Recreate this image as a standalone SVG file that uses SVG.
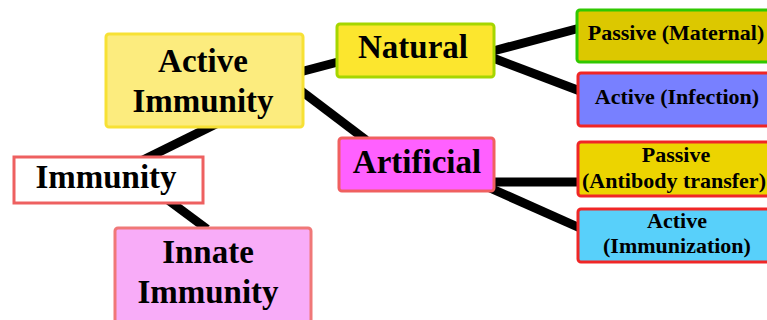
<svg xmlns="http://www.w3.org/2000/svg" width="767" height="320" viewBox="0 0 767 320">
<style>
.b{stroke-width:3}
.t{font-family:"Liberation Serif","Times New Roman",serif;font-weight:bold;fill:#000;text-anchor:middle}
.big{font-size:33px}
.sm{font-size:22px}
#edges line{stroke:#000;stroke-width:9;stroke-linecap:butt}
</style>
<rect width="767" height="320" fill="#fff"/>
<g id="edges">
<line x1="143" y1="160" x2="216" y2="124"/>
<line x1="168" y1="200" x2="207" y2="229"/>
<line x1="300" y1="72" x2="338" y2="62"/>
<line x1="300" y1="90" x2="366" y2="140"/>
<line x1="493" y1="51" x2="580" y2="28"/>
<line x1="493" y1="58" x2="580" y2="91"/>
<line x1="490" y1="182" x2="580" y2="182"/>
<line x1="490" y1="188" x2="580" y2="228"/>
</g>
<g id="active">
<rect class="b" x="106" y="34" width="197" height="93" rx="3" fill="#FCEC7E" stroke="#F7E135"/>
<text class="t big" x="203" y="72">Active</text>
<text class="t big" x="203" y="112">Immunity</text>
</g>
<g id="immunity">
<rect class="b" x="14" y="157" width="189" height="46" fill="#fff" stroke="#EE6060"/>
<text class="t big" x="106" y="188">Immunity</text>
</g>
<g id="innate">
<rect class="b" x="115" y="228" width="196" height="100" rx="3" fill="#F8ACF8" stroke="#F07878"/>
<text class="t big" x="208" y="263">Innate</text>
<text class="t big" x="208" y="303">Immunity</text>
</g>
<g id="natural">
<rect class="b" x="337" y="24" width="157" height="53" rx="3" fill="#FCE62E" stroke="#A6D600"/>
<text class="t big" x="413" y="58">Natural</text>
</g>
<g id="artificial">
<rect class="b" x="339" y="138" width="155" height="53" rx="3" fill="#FF60FF" stroke="#F06060"/>
<text class="t big" x="417" y="173">Artificial</text>
</g>
<g id="passive-maternal">
<rect class="b" x="577" y="10" width="200" height="52" rx="3" fill="#DCC800" stroke="#30C800"/>
<text class="t sm" x="676" y="40">Passive (Maternal)</text>
</g>
<g id="active-infection">
<rect class="b" x="578" y="73" width="200" height="53" rx="3" fill="#7880FF" stroke="#F02626"/>
<text class="t sm" x="677" y="104">Active (Infection)</text>
</g>
<g id="passive-antibody">
<rect class="b" x="578" y="142" width="200" height="54" rx="3" fill="#ECD400" stroke="#F02626"/>
<text class="t sm" x="676" y="162">Passive</text>
<text class="t sm" x="674" y="188">(Antibody transfer)</text>
</g>
<g id="active-immunization">
<rect class="b" x="578" y="209" width="200" height="53" rx="3" fill="#58D0FA" stroke="#F02626"/>
<text class="t sm" x="677" y="228">Active</text>
<text class="t sm" x="677" y="253">(Immunization)</text>
</g>
</svg>
